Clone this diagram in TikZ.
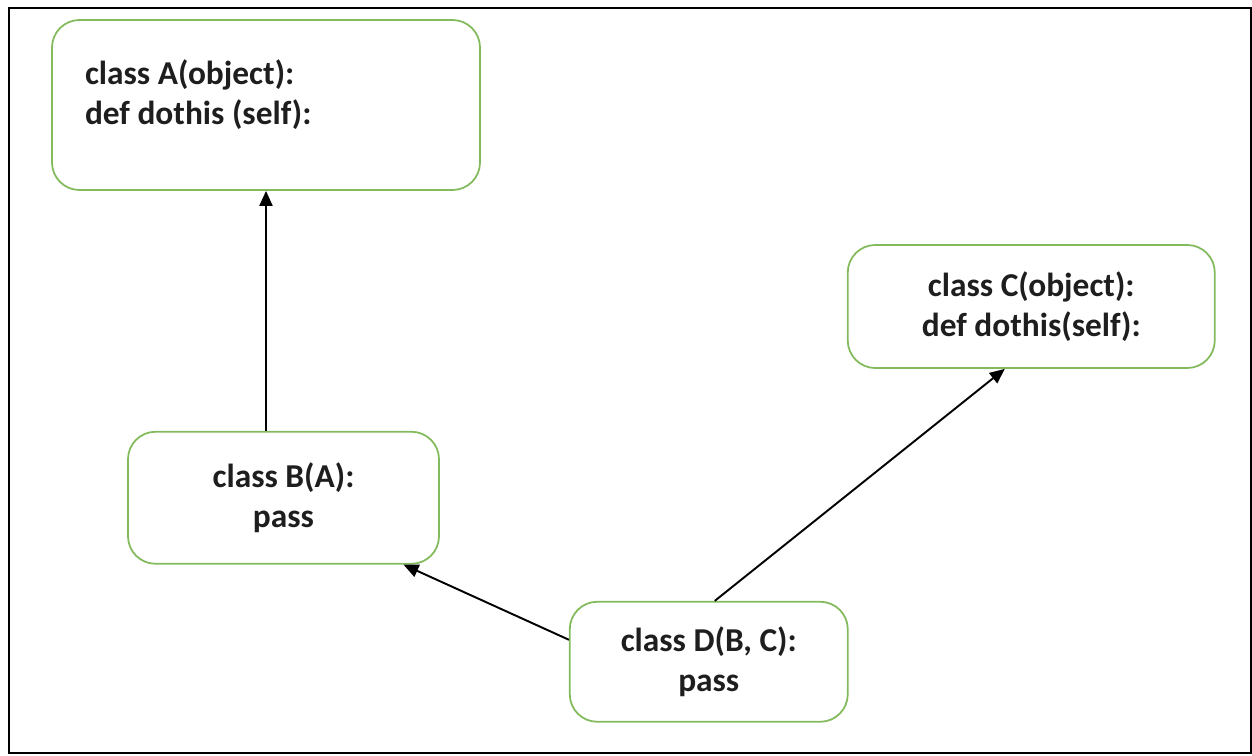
\documentclass[tikz,border=0pt]{standalone}
\usepackage{fontspec}
\setmainfont{Carlito}
\usepackage{tikz}
\usetikzlibrary{arrows.meta, positioning}
\definecolor{boxgreen}{RGB}{130,186,92}
\definecolor{textgray}{RGB}{30,30,30}
\tikzset{
    classbox/.style={rectangle, draw=boxgreen, line width=1pt, rounded corners=0.55cm, align=center, text=textgray, font=\fontsize{19}{23}\selectfont\bfseries},
    arrow/.style={-{Triangle[length=0.3cm, width=0.26cm]}, line width=1.1pt}
}

\begin{document}
\begin{tikzpicture}
        % --- Frame ---
        \useasboundingbox (0,0) rectangle (25.04,-15.1);
        \draw [line width=1pt] (0.18,-0.16) rectangle (25.02,-15.06);

        % --- Classes ---
        \node (A) [classbox, minimum height=3.4cm, text width=7.24cm, inner xsep=0.66cm, align=flush left] at (5.32,-2.1) {class A(object):\\ def dothis (self):\\[-8pt] \mbox{}};

        \node (B) [classbox, below=4.8cm of A, xshift=0.35cm, minimum width=6.22cm, minimum height=2.64cm] {class B(A):\\ pass};

        \node (D) [classbox, right=2.58cm of B, yshift=-3.28cm, minimum width=5.56cm, minimum height=2.4cm] {class D(B, C):\\ pass};

        \node (C) [classbox, above=4.64cm of D, xshift=6.45cm, minimum width=7.34cm, minimum height=2.46cm] {class C(object):\\ def dothis(self):};

        % --- Arrows ---
        \draw [arrow] (B.north -| A.south) -- (A.south);
        \draw [arrow] ([yshift=0.44cm]D.west) -- ([xshift=2.4cm]B.south);
        \draw [arrow] ([xshift=0.12cm]D.north) -- ([xshift=-0.53cm]C.south);
    \end{tikzpicture}
\end{document}
